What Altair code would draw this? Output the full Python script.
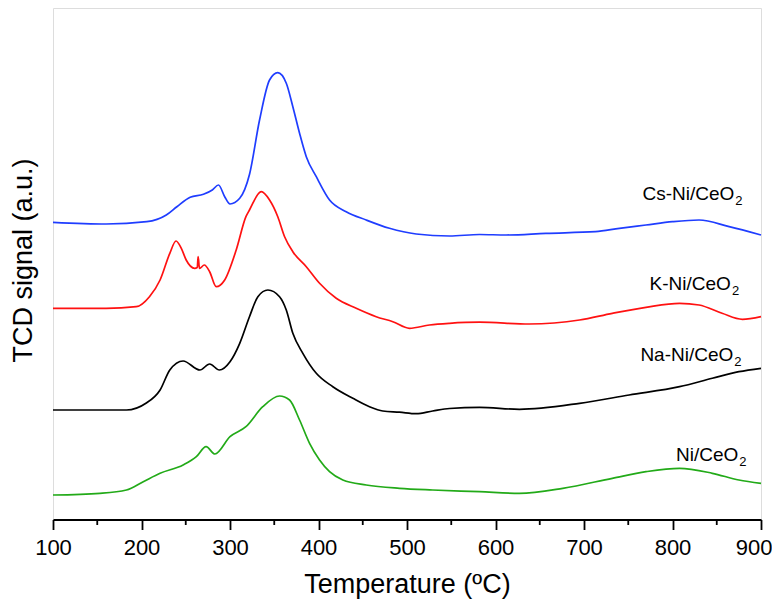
import altair as alt
import pandas as pd

cs_t = [100, 160, 206, 228, 240, 255, 270, 280, 287, 294, 300, 311, 322, 333.4, 344.7, 354, 363.6, 371, 378.6,
        386.2, 397.5, 412.5, 431.3, 453.9, 480.2, 510.4, 548, 582, 612, 657, 713, 740, 770, 800, 830, 864, 900]
cs_v = [297.2, 295.5, 297.8, 304.5, 312.8, 322.2, 325.2, 329.5, 334.5, 322.8, 315.5, 321.2, 345.0, 399.5, 439.5,
        446.8, 436.2, 412.8, 386.2, 362.8, 342.8, 319.5, 307.8, 299.5, 291.2, 285.5, 283.5, 285.0, 284.5, 286.2,
        287.8, 291.2, 294.5, 297.8, 299.5, 292.8, 284.5]

k_t = [100, 160, 194, 209, 221, 232, 239, 245, 250.5, 260, 263, 264, 265.5, 271, 277, 284.4, 294, 307, 318, 322,
       335.3, 344.7, 354, 361.7, 371, 386.2, 401.2, 420, 442.6, 465.2, 484, 502.8, 525.4, 548, 582, 638, 695,
       732, 770, 808, 830, 856, 879, 900]
k_v = [211.2, 211.2, 212.8, 222.8, 239.5, 266.2, 278.5, 271.2, 259.5, 251.2, 252.0, 262.8, 251.0, 254.5, 247.8,
       232.8, 239.5, 269.5, 302.8, 309.5, 327.8, 319.5, 302.8, 282.8, 267.8, 252.8, 236.2, 221.2, 211.2, 202.8,
       197.8, 191.2, 194.5, 196.2, 197.3, 195.5, 199.5, 206.2, 212.2, 216.2, 214.5, 206.2, 200.2, 202.8]

na_t = [100, 183, 205, 221, 232, 247, 266, 277, 288, 300, 311, 322, 331.5, 342.8, 356, 363.6, 371, 382.3, 397.5,
        416.2, 438.8, 457.6, 472.7, 491.5, 510.4, 529, 548, 582, 627, 695, 751, 808, 845, 875, 900]
na_v = [109.5, 109.5, 116.2, 129.5, 149.5, 158.5, 149.5, 155.5, 149.5, 157.8, 176.2, 202.8, 222.8, 229.5, 222.8,
        209.5, 186.2, 166.2, 146.2, 132.8, 121.2, 112.8, 108.5, 107.3, 105.8, 108.5, 111.0, 112.2, 110.2, 116.2,
        124.5, 132.8, 141.2, 147.8, 151.2]

ni_t = [100, 153, 183, 202, 221, 247, 262, 273, 283, 300, 318, 337, 356, 367.3, 378.6, 389.9, 401.2, 412.5,
        427.5, 453.9, 491.5, 529, 582, 627, 676, 732, 770, 808, 845, 875, 900]
ni_v = [24.5, 26.2, 29.5, 37.8, 46.2, 54.5, 62.8, 72.8, 65.5, 82.8, 92.8, 112.8, 123.5, 119.5, 99.5, 76.2, 59.5,
        47.8, 39.5, 34.5, 31.2, 29.5, 27.8, 26.2, 31.2, 41.2, 47.8, 51.2, 46.2, 39.5, 36.2]

series_names = ["Cs-Ni/CeO2", "K-Ni/CeO2", "Na-Ni/CeO2", "Ni/CeO2"]
series_colors = ["#1f3dff", "#ff1111", "#000000", "#22aa18"]

label_main = ["Cs-Ni/CeO", "K-Ni/CeO", "Na-Ni/CeO", "Ni/CeO"]
label_sub = ["2", "2", "2", "2"]
label_t = [869.8, 866.0, 868.7, 874.4]
label_v = [319.5, 229.5, 158.5, 58.8]

major_ticks = [100, 200, 300, 400, 500, 600, 700, 800, 900]
minor_ticks = [150, 250, 350, 450, 550, 650, 750, 850]

rows = []
for name, ts, vs in zip(series_names, [cs_t, k_t, na_t, ni_t], [cs_v, k_v, na_v, ni_v]):
    for t, v in zip(ts, vs):
        rows.append({"series": name, "T": t, "signal": v})
df = pd.DataFrame(rows)
labels_df = pd.DataFrame({"series": series_names, "main": label_main, "sub": label_sub,
                          "T": label_t, "signal": label_v})
minor_df = pd.DataFrame({"T": minor_ticks})

W, H = 708, 511.5
FONT = "Liberation Sans"

xscale = alt.Scale(domain=[100, 900], nice=False, zero=False)
yscale = alt.Scale(domain=[0, H], nice=False, zero=False)
color = alt.Color("series:N", scale=alt.Scale(domain=series_names, range=series_colors), legend=None)

lines = alt.Chart(df).mark_line(strokeWidth=1.7, interpolate="monotone").encode(
    x=alt.X("T:Q", scale=xscale, title="Temperature (ºC)",
            axis=alt.Axis(values=major_ticks, format="d", tickSize=10, tickWidth=1.8, tickColor="black",
                          domainColor="black", domainWidth=1.8, grid=False,
                          labelFontSize=22, labelFont=FONT, labelColor="black", labelBaseline="alphabetic",
                          labelPadding=25, labelFlush=False,
                          labelAlign={"condition": {"test": "datum.value == 900", "value": "right"},
                                      "value": "center"},
                          labelOffset={"condition": {"test": "datum.value == 900", "value": 11},
                                       "value": 0},
                          titleFontSize=27, titleFont=FONT, titleFontWeight="normal", titleColor="black",
                          titleBaseline="alphabetic", titleY=73)),
    y=alt.Y("signal:Q", scale=yscale, title="TCD signal (a.u.)",
            axis=alt.Axis(labels=False, ticks=False, domain=False, grid=False,
                          titleFontSize=27, titleFont=FONT, titleFontWeight="normal", titleColor="black",
                          titleBaseline="alphabetic", titleX=-22, titleY=252, titleAngle=270)),
    color=color,
    detail="series:N",
)

minor = alt.Chart(minor_df).mark_rule(color="black", strokeWidth=1.8).encode(
    x=alt.X("T:Q", scale=xscale),
    y=alt.value(H),
    y2=alt.value(H + 5.5),
)

text_main = alt.Chart(labels_df).mark_text(align="right", baseline="alphabetic", fontSize=19, font=FONT,
                                           color="black").encode(
    x=alt.X("T:Q", scale=xscale), y=alt.Y("signal:Q", scale=yscale), text="main:N")
text_sub = alt.Chart(labels_df).mark_text(align="left", baseline="alphabetic", fontSize=13, font=FONT,
                                          color="black", dx=1, dy=5).encode(
    x=alt.X("T:Q", scale=xscale), y=alt.Y("signal:Q", scale=yscale), text="sub:N")

chart = alt.layer(lines, minor, text_main, text_sub).properties(
    width=W, height=H,
    autosize=alt.AutoSizeParams(type="none"),
    padding={"left": 45, "top": 0, "right": 11, "bottom": 82},
).configure_view(stroke="black", strokeWidth=1.8).configure(background="white")

chart.save("out.html", embed_options={"renderer": "svg", "actions": False})
